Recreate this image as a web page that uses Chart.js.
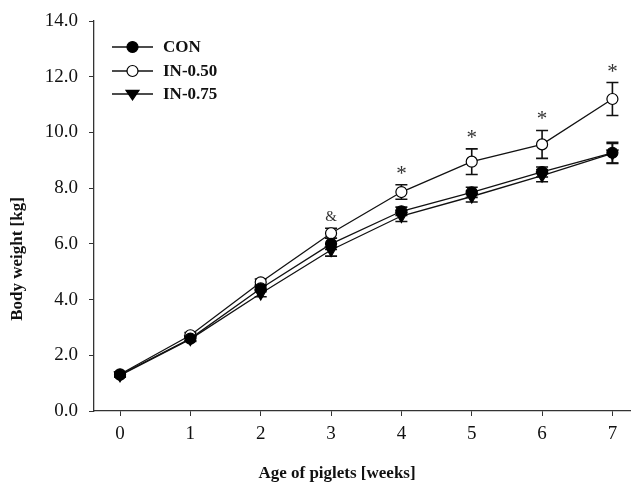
<!DOCTYPE html>
<html>
<head>
<meta charset="utf-8">
<script src="https://cdn.jsdelivr.net/npm/chart.js@4.4.1/dist/chart.umd.min.js"></script>
<style>
html,body{margin:0;padding:0;background:#fff;}
#wrap{width:632px;height:489px;position:relative;}
</style>
</head>
<body>
<div id="wrap"><canvas id="c" width="632" height="489"></canvas></div>
<script>
const weeks = [0, 1, 2, 3, 4, 5, 6, 7];
const seriesNames = ['CON', 'IN-0.50', 'IN-0.75'];
const conMean = [1.30, 2.60, 4.40, 6.00, 7.17, 7.85, 8.58, 9.27];
const conErr  = [0.08, 0.08, 0.12, 0.20, 0.15, 0.18, 0.18, 0.38];
const in050Mean = [1.32, 2.72, 4.62, 6.38, 7.86, 8.95, 9.57, 11.20];
const in050Err  = [0.08, 0.10, 0.12, 0.18, 0.26, 0.46, 0.50, 0.59];
const in075Mean = [1.28, 2.58, 4.22, 5.78, 7.00, 7.70, 8.45, 9.25];
const in075Err  = [0.06, 0.08, 0.12, 0.22, 0.20, 0.20, 0.22, 0.35];
const marks = ['', '', '', '&', '*', '*', '*', '*'];
const yTicks = [0, 2, 4, 6, 8, 10, 12, 14];
const xTitle = 'Age of piglets [weeks]';
const yTitle = 'Body weight [kg]';

const SERIF = '"Liberation Serif", "Times New Roman", serif';

function pts(arr){ return weeks.map((w,i)=>({x:w, y:arr[i]})); }

const means = [conMean, in050Mean, in075Mean];
const errs = [conErr, in050Err, in075Err];
const styles = [
  {pointStyle:'circle', bg:'#000', r:5.5, rot:0},
  {pointStyle:'circle', bg:'#fff', r:5.5, rot:0},
  {pointStyle:'triangle', bg:'#000', r:6.5, rot:180}
];

const datasets = means.map((m,k)=>({
  label: seriesNames[k],
  data: pts(m),
  borderColor:'#111',
  borderWidth:1.3,
  backgroundColor: styles[k].bg,
  pointBackgroundColor: styles[k].bg,
  pointBorderColor:'#000',
  pointBorderWidth:1.2,
  pointStyle: styles[k].pointStyle,
  pointRadius: styles[k].r,
  pointRotation: styles[k].rot,
  fill:false,
  tension:0
}));

const errorBars = {
  id:'errorBars',
  beforeDatasetsDraw(chart){
    const ctx = chart.ctx, xs = chart.scales.x, ys = chart.scales.y;
    ctx.save();
    ctx.strokeStyle = '#111';
    ctx.lineWidth = 1.6;
    means.forEach((m,k)=>{
      weeks.forEach((w,i)=>{
        const x = xs.getPixelForValue(w);
        const yt = ys.getPixelForValue(m[i]+errs[k][i]);
        const yb = ys.getPixelForValue(m[i]-errs[k][i]);
        ctx.beginPath();
        ctx.moveTo(x,yt); ctx.lineTo(x,yb);
        ctx.moveTo(x-6,yt); ctx.lineTo(x+6,yt);
        ctx.moveTo(x-6,yb); ctx.lineTo(x+6,yb);
        ctx.stroke();
      });
    });
    ctx.restore();
  },
  afterDatasetsDraw(chart){
    const ctx = chart.ctx, xs = chart.scales.x, ys = chart.scales.y;
    ctx.save();
    ctx.fillStyle = '#333';
    ctx.textAlign = 'center';
    ctx.textBaseline = 'alphabetic';
    weeks.forEach((w,i)=>{
      if(!marks[i]) return;
      const x = xs.getPixelForValue(w);
      const yt = ys.getPixelForValue(in050Mean[i]+in050Err[i]);
      if(marks[i]==='*'){
        ctx.font = '21px ' + SERIF;
        ctx.fillText('*', x, yt - 5);
      } else {
        ctx.font = '15px ' + SERIF;
        ctx.fillText(marks[i], x, yt - 7);
      }
    });
    // Axis titles
    ctx.fillStyle = '#111';
    ctx.font = 'bold 17px ' + SERIF;
    ctx.textBaseline = 'middle';
    ctx.fillText(xTitle, 337, 474);
    ctx.translate(18, 259);
    ctx.rotate(-Math.PI/2);
    ctx.fillText(yTitle, 0, 0);
    ctx.restore();
    // Legend
    ctx.save();
    const ly = [47, 71, 94];
    ly.forEach((y,k)=>{
      ctx.strokeStyle = '#111';
      ctx.lineWidth = 1.3;
      ctx.beginPath(); ctx.moveTo(112,y); ctx.lineTo(153,y); ctx.stroke();
      ctx.fillStyle = styles[k].bg; ctx.strokeStyle = '#000'; ctx.lineWidth = 1.2;
      ctx.beginPath();
      if(styles[k].pointStyle==='circle'){
        ctx.arc(132.5,y,styles[k].r,0,Math.PI*2);
      } else {
        const r = styles[k].r;
        ctx.moveTo(132.5-r, y-r*0.55); ctx.lineTo(132.5+r, y-r*0.55); ctx.lineTo(132.5, y+r*0.9); ctx.closePath();
      }
      ctx.fill(); ctx.stroke();
      ctx.fillStyle = '#111';
      ctx.font = 'bold 17px ' + SERIF;
      ctx.textAlign = 'left';
      ctx.textBaseline = 'middle';
      ctx.fillText(seriesNames[k], 163, y+1);
    });
    ctx.restore();
  }
};

new Chart(document.getElementById('c'), {
  type:'line',
  data:{datasets},
  options:{
    responsive:false,
    animation:false,
    events:[],
    layout:{autoPadding:false, padding:{left:0, top:21, right:2, bottom:0}},
    plugins:{legend:{display:false}, tooltip:{enabled:false}},
    scales:{
      x:{
        type:'linear', min:-0.37, max:7.25,
        afterFit(s){ s.height = 78; s.paddingLeft = 0; s.paddingRight = 0; },
        afterBuildTicks(s){ s.ticks = weeks.map(v=>({value:v})); },
        grid:{drawOnChartArea:false, drawTicks:true, tickLength:5, color:'#333', tickColor:'#333'},
        border:{display:true, color:'#333', width:1.3},
        ticks:{font:{family:SERIF, size:19}, color:'#111', padding:7, autoSkip:false, maxRotation:0,
          callback:(v)=>String(v)}
      },
      y:{
        min:0, max:14,
        afterFit(s){ s.width = 94; s.paddingTop = 0; s.paddingBottom = 0; },
        afterBuildTicks(s){ s.ticks = yTicks.map(v=>({value:v})); },
        grid:{drawOnChartArea:false, drawTicks:true, tickLength:5, color:'#333', tickColor:'#333'},
        border:{display:true, color:'#333', width:1.3},
        ticks:{font:{family:SERIF, size:19}, color:'#111', padding:11,
          callback:(v)=>Number(v).toFixed(1)}
      }
    }
  },
  plugins:[errorBars]
});
</script>
</body>
</html>
